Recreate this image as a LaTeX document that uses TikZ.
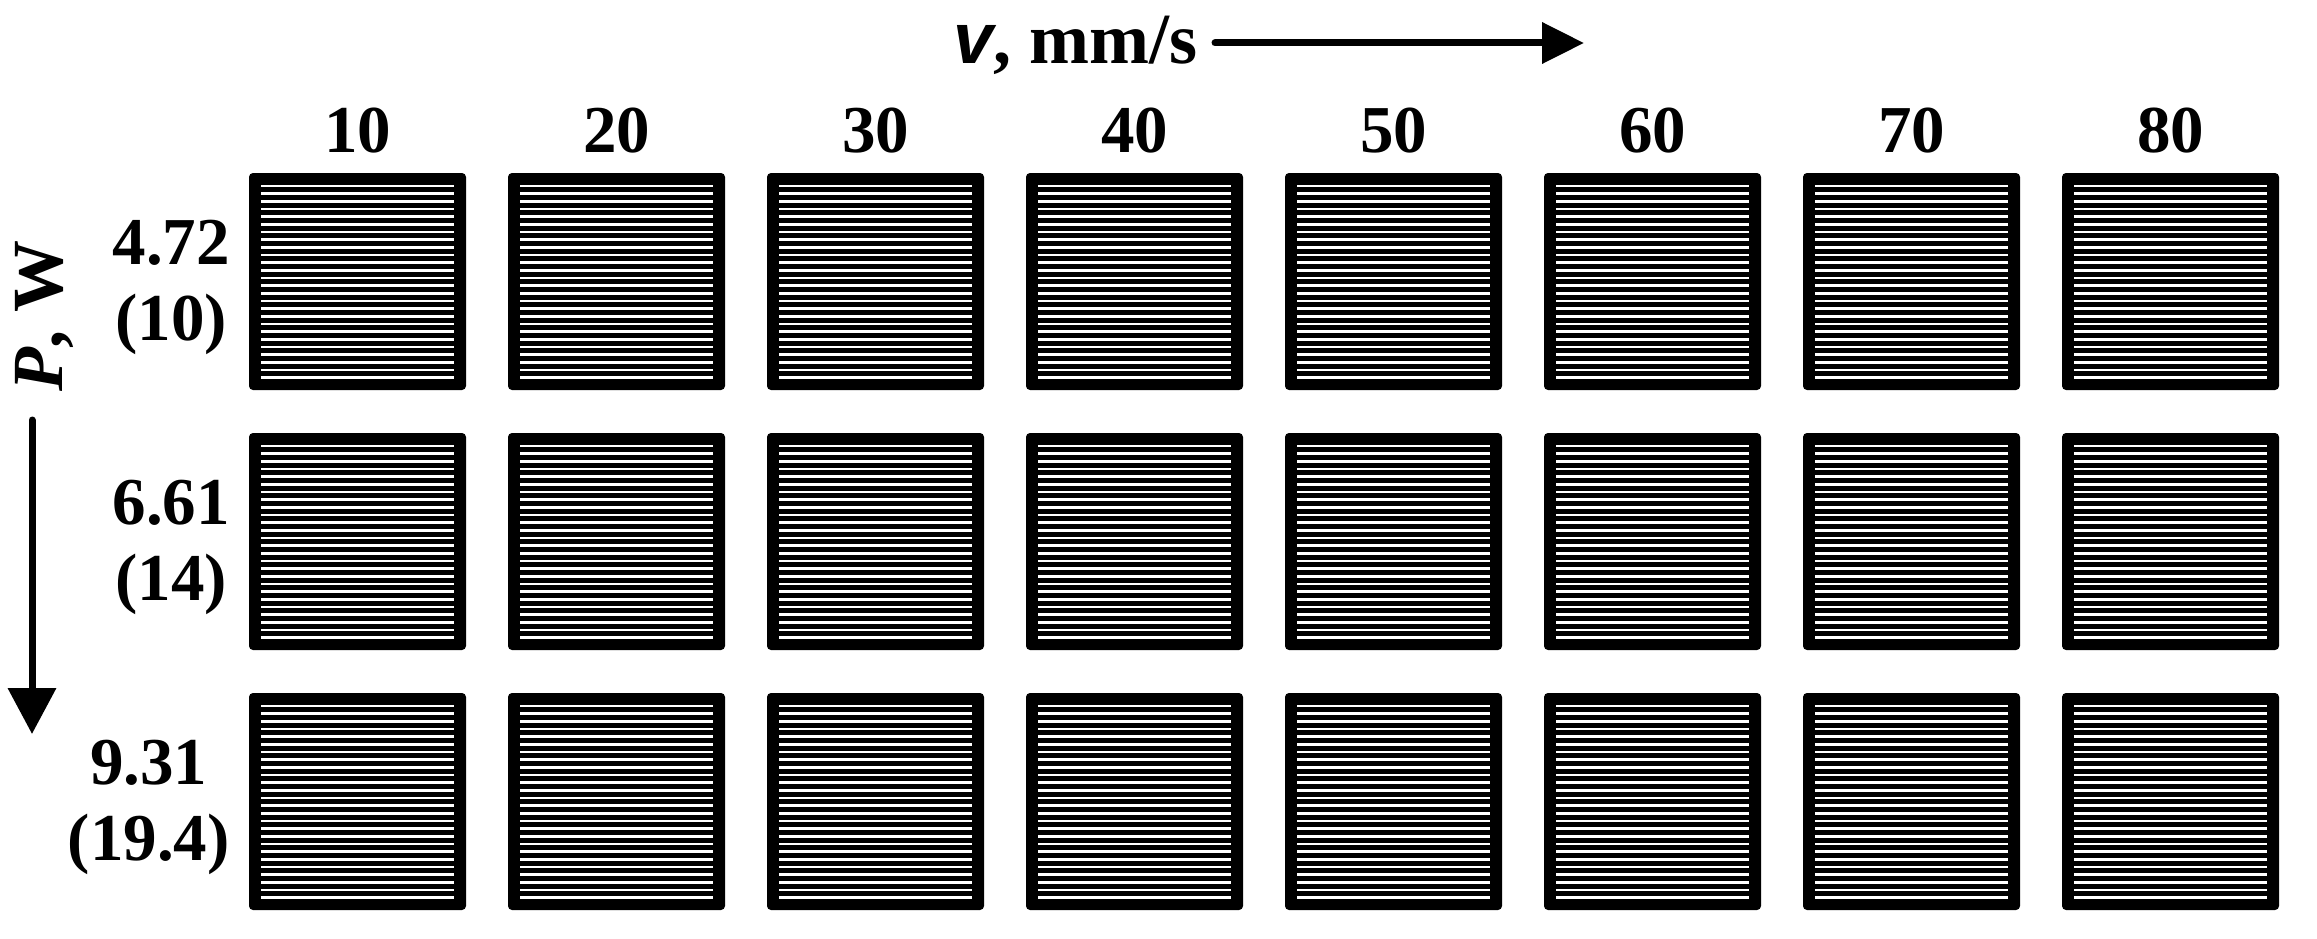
\documentclass[tikz,border=0pt]{standalone}
\usepackage{fontspec}
\setmainfont{Liberation Serif}
\newfontfamily\lsans{Liberation Sans}
\usetikzlibrary{arrows.meta,calc}
\begin{document}
\begin{tikzpicture}[x=1pt,y=-1pt,
  sample/.style={fill=black, draw=none, rounded corners=4pt, minimum width=217pt, minimum height=217pt, inner sep=0pt, outer sep=0pt},
  stripe/.style={white, line width=2.6pt},
  lbl/.style={font=\fontsize{67}{76}\selectfont\bfseries, inner sep=0pt},
  axarrow/.style={line width=7pt, line cap=round}]
\useasboundingbox (0,0) rectangle (2317,939);
\fill[white] (0,0) rectangle (2317,939);
% samples
\foreach \c in {0,...,7}{
  \foreach \r in {0,1,2}{
    \node[sample] (s\r\c) at ({357.5+259*\c},{281.5+260*\r}) {};
    \foreach \i in {0,...,25}{
      \draw[stripe] ($(s\r\c.north west)+(12,{13+7.67*\i})$) -- ($(s\r\c.north east)+(-12,{13+7.67*\i})$);
    }
  }
}
% column labels
\foreach \c/\t in {0/10,1/20,2/30,3/40,4/50,5/60,6/70,7/80}{
  \node[lbl, anchor=base] (c\c) at ({357.5+259*\c},153) {\t};
}
% row labels
\node[lbl, anchor=east, align=center] (r0) at (230,287) {4.72\\(10)};
\node[lbl, anchor=east, align=center] (r1) at (230,547) {6.61\\(14)};
\node[lbl, anchor=east, align=center] (r2) at (230,807) {9.31\\(19.4)};
% axis labels
\node[lbl, font=\fontsize{72}{80}\selectfont\bfseries, anchor=base west] (vl) at (953,64) {{\lsans\itshape v}, mm/s};
\node[lbl, font=\fontsize{72}{80}\selectfont\bfseries, rotate=90] (pw) at (44,316) {\textit{P}, W};
% arrows
\coordinate (va0) at (1215,43);
\coordinate (va1) at (1584,43);
\draw[axarrow, -{Triangle[length=42pt,width=40pt]}] (va0) -- (va1);
\coordinate (pa0) at (32,420);
\coordinate (pa1) at (32,734);
\draw[axarrow, -{Triangle[length=46pt,width=47pt]}] (pa0) -- (pa1);
\end{tikzpicture}
\end{document}
